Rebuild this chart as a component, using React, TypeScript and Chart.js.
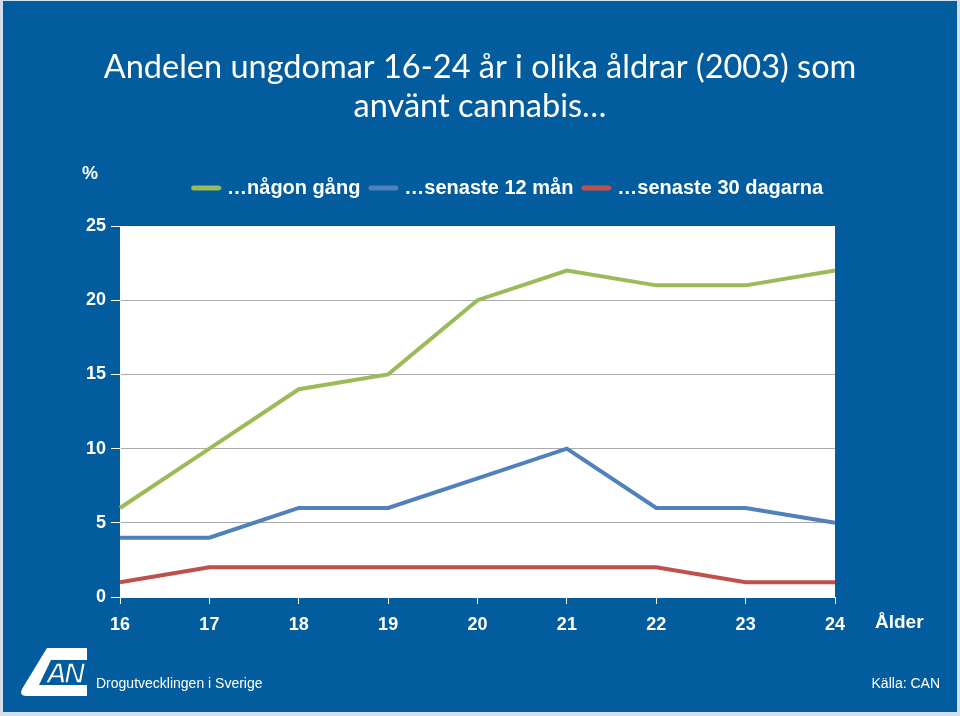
import React, { useEffect, useRef } from "react";
import { Chart, registerables } from "chart.js";

Chart.register(...registerables);

// ---- data ----
const ages = ["16", "17", "18", "19", "20", "21", "22", "23", "24"];
const nagonGang = [6, 10, 14, 15, 20, 22, 21, 21, 22];
const senaste12Man = [4, 4, 6, 6, 8, 10, 6, 6, 5];
const senaste30Dagarna = [1, 2, 2, 2, 2, 2, 2, 1, 1];
const seriesNames = ["…någon gång", "…senaste 12 mån", "…senaste 30 dagarna"];
const titleLines = [
  "Andelen ungdomar 16-24 år i olika åldrar (2003) som",
  "använt cannabis…",
];
const yMin = 0;
const yMax = 25;
const yStep = 5;
const yUnit = "%";
const xUnit = "Ålder";
const footerLeft = "Drogutvecklingen i Sverige";
const footerRight = "Källa: CAN";

// ---- styles ----
const BLUE = "#025c9d";
const COLORS = ["#9bbb59", "#4f81bd", "#c0504d"];
const AXIS_FONT = { family: "'Liberation Sans', Arial, sans-serif", weight: "bold" as const, size: 18 };

function makeSwatch(color: string): HTMLCanvasElement {
  const c = document.createElement("canvas");
  c.width = 31;
  c.height = 6;
  const g = c.getContext("2d")!;
  g.strokeStyle = color;
  g.lineWidth = 5;
  g.lineCap = "round";
  g.beginPath();
  g.moveTo(3, 3);
  g.lineTo(28, 3);
  g.stroke();
  return c;
}

const plotBg = {
  id: "plotBg",
  beforeDraw(chart: any) {
    const { ctx, chartArea } = chart;
    if (!chartArea) return;
    ctx.save();
    ctx.fillStyle = "#ffffff";
    ctx.fillRect(chartArea.left, chartArea.top, chartArea.right - chartArea.left, chartArea.bottom - chartArea.top);
    ctx.restore();
  },
};

export default function App() {
  const ref = useRef<HTMLCanvasElement>(null);

  useEffect(() => {
    const canvas = ref.current;
    if (!canvas) return;
    const values = [nagonGang, senaste12Man, senaste30Dagarna];
    const swatches = COLORS.map(makeSwatch);
    const chart = new Chart(canvas, {
      type: "line",
      data: {
        labels: ages,
        datasets: values.map((v, i) => ({
          label: seriesNames[i],
          data: v,
          borderColor: COLORS[i],
          backgroundColor: COLORS[i],
          borderWidth: 4,
          pointRadius: 0,
          tension: 0,
          yAxisID: "y",
        })),
      },
      options: {
        responsive: false,
        animation: false,
        devicePixelRatio: 1,
        layout: { padding: { left: 0, right: 0, top: 0, bottom: 69 } },
        plugins: {
          title: {
            display: true,
            text: titleLines,
            color: "#ffffff",
            font: { family: "Lato, 'Open Sans', sans-serif", size: 32.5, weight: "normal", lineHeight: 1.2 },
            padding: { top: 48, bottom: 40 },
          },
          subtitle: {
            display: true,
            text: " ",
            weight: 500,
            fullSize: false,
            font: { size: 8, lineHeight: 1 },
            padding: { top: 5, bottom: 5 },
          } as any,
          legend: {
            display: true,
            position: "top",
            align: "end",
            fullSize: false,
            labels: {
              color: "#ffffff",
              font: { family: "'Liberation Sans', Arial, sans-serif", weight: "bold", size: 20 },
              usePointStyle: true,
              pointStyleWidth: 22,
              boxHeight: 5,
              padding: 12,
              generateLabels(ch: any) {
                const items = (Chart.defaults.plugins.legend.labels as any).generateLabels(ch);
                return items.map((it: any, i: number) => ({
                  ...it,
                  pointStyle: swatches[it.datasetIndex ?? i],
                  fillStyle: it.strokeStyle,
                  lineWidth: 0,
                  fontColor: "#ffffff",
                }));
              },
            } as any,
          },
          tooltip: { enabled: false },
        },
        scales: {
          x: {
            type: "category",
            offset: false,
            grid: { display: true, drawOnChartArea: false, tickLength: 7, tickColor: "#ffffff", tickWidth: 1 },
            border: { display: true, color: "#ffffff", width: 1 },
            ticks: { color: "#ffffff", font: AXIS_FONT, padding: 10, maxRotation: 0, autoSkip: false },
            afterFit(s: any) {
              s.height = 50;
            },
          },
          y: {
            min: yMin,
            max: yMax,
            position: "left",
            ticks: { stepSize: yStep, color: "#ffffff", font: AXIS_FONT, padding: 5 },
            grid: {
              color: (c: any) => (c.tick && c.tick.value === yMax ? "rgba(0,0,0,0)" : "#aaaaaa"),
              tickColor: "#ffffff",
              tickLength: 9,
              lineWidth: 1,
            },
            border: { display: true, color: "#ffffff" },
            afterFit(s: any) {
              s.width = 120;
            },
          },
          y2: {
            position: "right",
            display: true,
            grid: { display: false },
            border: { display: false },
            ticks: { display: false },
            afterFit(s: any) {
              s.width = 125;
            },
          },
        },
      } as any,
      plugins: [plotBg],
    });
    return () => chart.destroy();
  }, []);

  const txt = {
    position: "absolute" as const,
    color: "#ffffff",
    fontFamily: "'Liberation Sans', Arial, sans-serif",
    whiteSpace: "nowrap" as const,
  };

  return (
    <div style={{ position: "absolute", left: 0, top: 0, width: 960, height: 716, background: "#d3dfeb", overflow: "hidden" }}>
      <div style={{ position: "absolute", left: 3, top: 1, width: 954, height: 711, background: BLUE }} />
      <canvas ref={ref} width={960} height={716} style={{ position: "absolute", left: 0, top: 0, width: 960, height: 716 }} />
      <div style={{ ...txt, left: 82, top: 163, fontSize: 18, fontWeight: "bold" }}>{yUnit}</div>
      <div style={{ ...txt, left: 875, top: 611, fontSize: 19, fontWeight: "bold" }}>{xUnit}</div>
      <svg style={{ position: "absolute", left: 18, top: 646 }} width={72} height={54} viewBox="0 0 72 54">
        <path d="M29 2 L69 2 L69 50 L8 50 Q1 50 4 43 Z" fill="#ffffff" />
        <path d="M33 14 L69 14 L69 39 L21 39 Z" fill={BLUE} />
        <text x="46" y="37" fill="#ffffff" fontFamily="'Liberation Sans', Arial, sans-serif" fontWeight="bold" fontStyle="italic" fontSize="29" textAnchor="middle" stroke={BLUE} strokeWidth="1.5" letterSpacing="-3">AN</text>
      </svg>
      <div style={{ ...txt, left: 96, top: 675, fontSize: 14 }}>{footerLeft}</div>
      <div style={{ ...txt, right: 20, top: 675, fontSize: 14 }}>{footerRight}</div>
    </div>
  );
}
